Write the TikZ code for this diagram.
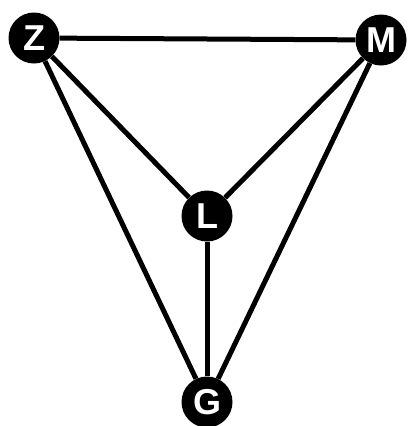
\documentclass[tikz,border=0pt]{standalone}
\usepackage{fontspec}
\setsansfont{Liberation Sans}
\begin{document}
\begin{tikzpicture}[x=1pt,y=-1pt,
  vert/.style={circle,fill=black,minimum size=51pt,inner sep=0pt,text=white,font=\sffamily\bfseries\fontsize{36}{36}\selectfont},
  edge/.style={line width=5pt}]
\useasboundingbox (0,0) rectangle (408,426);
\node[vert] (Z) at (34,38) {Z};
\node[vert] (M) at (381,40) {M};
\node[vert] (L) at (207,216) {L};
\node[vert] (G) at (207,402) {G};
\draw[edge] (Z) -- (M);
\draw[edge] (Z) -- (L);
\draw[edge] (Z) -- (G);
\draw[edge] (M) -- (L);
\draw[edge] (M) -- (G);
\draw[edge] (L) -- (G);
\end{tikzpicture}
\end{document}
